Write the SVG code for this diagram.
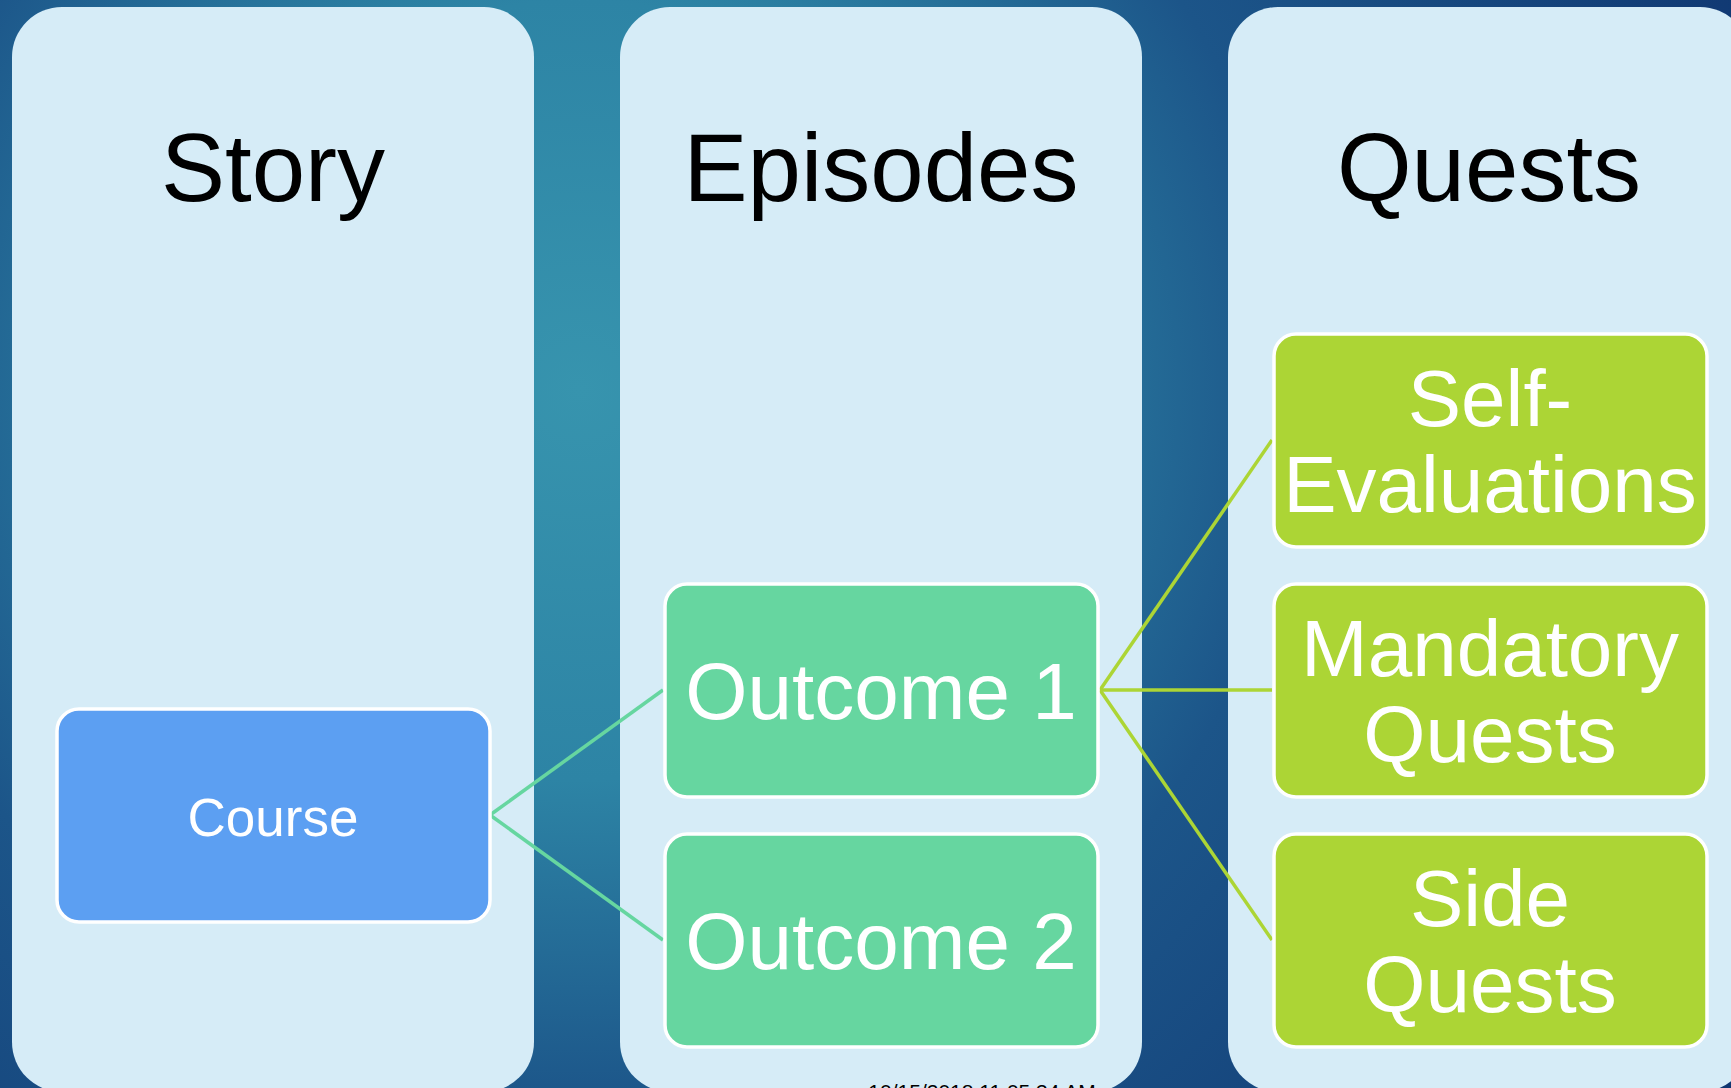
<svg xmlns="http://www.w3.org/2000/svg" width="1731" height="1088" viewBox="0 0 1731 1088">
<style>
.panel{fill:#d6ecf7}
.hdr{font-family:"Liberation Sans",Arial,sans-serif;font-size:96px;fill:#000;text-anchor:middle}
.node{stroke:#fff;stroke-width:3.5}
.course{fill:#5c9ff2}
.outcome{fill:#66d6a0}
.quest{fill:#acd535}
.lbl{font-family:"Liberation Sans",Arial,sans-serif;font-size:80px;fill:#fff;text-anchor:middle}
.lbl.small{font-size:53px}
.c1{stroke:#66d6a0;stroke-width:3.5;fill:none}
.c2{stroke:#acd535;stroke-width:3.5;fill:none}
</style>
<defs>
<radialGradient id="bg" gradientUnits="userSpaceOnUse" cx="580" cy="390" r="1300">
<stop offset="0" stop-color="#3794ae"/>
<stop offset="0.3" stop-color="#2d84a5"/>
<stop offset="0.55" stop-color="#1c5589"/>
<stop offset="1" stop-color="#0f3570"/>
</radialGradient>
</defs>
<rect x="0" y="0" width="1731" height="1088" fill="url(#bg)"/>
<g id="panel-story">
<rect class="panel" x="12" y="7" width="522" height="1085" rx="50" ry="50"/>
<text class="hdr" x="273" y="201">Story</text>
</g>
<g id="panel-episodes">
<rect class="panel" x="620" y="7" width="522" height="1085" rx="50" ry="50"/>
<text class="hdr" x="881" y="201">Episodes</text>
</g>
<g id="panel-quests">
<rect class="panel" x="1228" y="7" width="522" height="1085" rx="50" ry="50"/>
<text class="hdr" x="1489" y="201">Quests</text>
</g>
<text x="982" y="1099" font-family="'Liberation Sans',Arial,sans-serif" font-size="21" fill="#000" text-anchor="middle">10/15/2018 11:05:34 AM</text>
<g id="connectors">
<line class="c1" x1="490" y1="815" x2="663" y2="690"/>
<line class="c1" x1="490" y1="815" x2="663" y2="940"/>
<line class="c2" x1="1100" y1="690" x2="1272" y2="440"/>
<line class="c2" x1="1100" y1="690" x2="1272" y2="690"/>
<line class="c2" x1="1100" y1="690" x2="1272" y2="940"/>
</g>
<g id="node-course">
<rect class="node course" x="57" y="709" width="433" height="213" rx="22"/>
<text class="lbl small" x="273" y="836">Course</text>
</g>
<g id="node-outcome1">
<rect class="node outcome" x="665" y="584" width="433" height="213" rx="22"/>
<text class="lbl" x="881" y="719">Outcome 1</text>
</g>
<g id="node-outcome2">
<rect class="node outcome" x="665" y="834" width="433" height="213" rx="22"/>
<text class="lbl" x="881" y="969">Outcome 2</text>
</g>
<g id="node-self-evaluations">
<rect class="node quest" x="1274" y="334" width="433" height="213" rx="22"/>
<text class="lbl" x="1490" y="426">Self-</text>
<text class="lbl" x="1490" y="512">Evaluations</text>
</g>
<g id="node-mandatory">
<rect class="node quest" x="1274" y="584" width="433" height="213" rx="22"/>
<text class="lbl" x="1490" y="676">Mandatory</text>
<text class="lbl" x="1490" y="762">Quests</text>
</g>
<g id="node-side">
<rect class="node quest" x="1274" y="834" width="433" height="213" rx="22"/>
<text class="lbl" x="1490" y="926">Side</text>
<text class="lbl" x="1490" y="1012">Quests</text>
</g>
</svg>
